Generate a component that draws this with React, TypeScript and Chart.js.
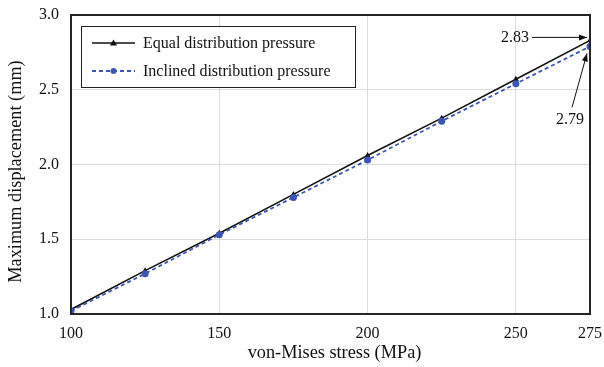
import React, { useEffect, useRef } from "react";
import { Chart, registerables } from "chart.js";

Chart.register(...registerables);

const stress = [100, 125, 150, 175, 200, 225, 250, 275];
const equalDisp = [1.03, 1.29, 1.54, 1.8, 2.06, 2.31, 2.57, 2.83];
const inclinedDisp = [1.02, 1.27, 1.53, 1.78, 2.03, 2.29, 2.54, 2.79];
const xTickValues = [100, 150, 200, 250, 275];
const yTickValues = [1.0, 1.5, 2.0, 2.5, 3.0];
const seriesNames = ["Equal distribution pressure", "Inclined distribution pressure"];
const xTitle = "von-Mises stress (MPa)";
const yTitle = "Maximum displacement (mm)";
const FONT = "'Liberation Serif', 'Times New Roman', serif";
const BLUE = "#3b55b3";

const framePlugin = {
  id: "frameAndNotes",
  afterDatasetsDraw(chart: any) {
    const ctx = chart.ctx;
    const a = chart.chartArea;
    ctx.save();
    ctx.strokeStyle = "#262626";
    ctx.lineWidth = 2;
    ctx.strokeRect(a.left, a.top, a.right - a.left, a.bottom - a.top);

    // axis titles
    ctx.fillStyle = "#111";
    ctx.font = `18.3px ${FONT}`;
    ctx.textAlign = "center";
    ctx.textBaseline = "middle";
    ctx.fillText(xTitle, (a.left + a.right) / 2 + 4, 353);
    ctx.save();
    ctx.translate(16, (a.top + a.bottom) / 2 + 7);
    ctx.rotate(-Math.PI / 2);
    ctx.fillText(yTitle, 0, 0);
    ctx.restore();

    // legend
    const lx = 81, ly = 26, lw = 274, lh = 61;
    ctx.fillStyle = "#fff";
    ctx.fillRect(lx, ly, lw, lh);
    ctx.strokeStyle = "#222";
    ctx.lineWidth = 1;
    ctx.strokeRect(lx + 0.5, ly + 0.5, lw, lh);
    const rows = [ly + 17, ly + 45];
    chart.data.datasets.forEach((ds: any, i: number) => {
      const y = rows[i];
      ctx.strokeStyle = ds.borderColor;
      ctx.lineWidth = ds.borderWidth;
      ctx.setLineDash(ds.borderDash || []);
      ctx.beginPath();
      ctx.moveTo(92, y);
      ctx.lineTo(135, y);
      ctx.stroke();
      ctx.setLineDash([]);
      ctx.fillStyle = ds.pointBackgroundColor;
      ctx.beginPath();
      if (ds.pointStyle === "triangle") {
        ctx.moveTo(113.5, y - 3.5);
        ctx.lineTo(117, y + 2.5);
        ctx.lineTo(110, y + 2.5);
        ctx.closePath();
      } else {
        ctx.arc(113.5, y, 3, 0, Math.PI * 2);
      }
      ctx.fill();
      ctx.fillStyle = "#111";
      ctx.font = `16px ${FONT}`;
      ctx.textAlign = "left";
      ctx.textBaseline = "middle";
      ctx.fillText(ds.label, 143, y + 1);
    });

    // annotations
    const xs = chart.scales.x, ys = chart.scales.y;
    const last = stress.length - 1;
    const px = xs.getPixelForValue(stress[last]);
    const pyE = ys.getPixelForValue(equalDisp[last]);
    const pyI = ys.getPixelForValue(inclinedDisp[last]);
    const arrow = (x1: number, y1: number, x2: number, y2: number) => {
      ctx.strokeStyle = "#111";
      ctx.fillStyle = "#111";
      ctx.lineWidth = 1;
      ctx.beginPath();
      ctx.moveTo(x1, y1);
      ctx.lineTo(x2, y2);
      ctx.stroke();
      const ang = Math.atan2(y2 - y1, x2 - x1);
      const L = 8, W = 3;
      ctx.beginPath();
      ctx.moveTo(x2, y2);
      ctx.lineTo(x2 - L * Math.cos(ang) + W * Math.sin(ang), y2 - L * Math.sin(ang) - W * Math.cos(ang));
      ctx.lineTo(x2 - L * Math.cos(ang) - W * Math.sin(ang), y2 - L * Math.sin(ang) + W * Math.cos(ang));
      ctx.closePath();
      ctx.fill();
    };
    ctx.font = `16px ${FONT}`;
    ctx.fillStyle = "#111";
    ctx.textAlign = "center";
    ctx.textBaseline = "middle";
    ctx.fillText(equalDisp[last].toFixed(2), px - 75, pyE - 3);
    arrow(px - 58, pyE - 3, px - 3, pyE - 3);
    ctx.fillStyle = "#111";
    ctx.fillText(inclinedDisp[last].toFixed(2), px - 20, pyI + 73);
    arrow(px - 18, pyI + 61, px - 3, pyI + 7);
    ctx.restore();
  },
};

export default function App() {
  const ref = useRef<HTMLCanvasElement>(null);
  useEffect(() => {
    document.body.style.margin = "0";
    const chart = new Chart(ref.current!, {
      type: "line",
      data: {
        datasets: [
          {
            label: seriesNames[0],
            data: stress.map((x, i) => ({ x, y: equalDisp[i] })),
            borderColor: "#111",
            backgroundColor: "#111",
            pointBackgroundColor: "#111",
            pointBorderColor: "#111",
            borderWidth: 1.6,
            pointStyle: "triangle",
            pointRadius: 3.5,
            pointBorderWidth: 0,
            order: 2,
          },
          {
            label: seriesNames[1],
            data: stress.map((x, i) => ({ x, y: inclinedDisp[i] })),
            borderColor: BLUE,
            backgroundColor: BLUE,
            pointBackgroundColor: BLUE,
            pointBorderColor: BLUE,
            borderWidth: 1.8,
            borderDash: [4, 3],
            pointStyle: "circle",
            pointRadius: 3.5,
            pointBorderWidth: 0,
            order: 1,
          },
        ],
      },
      options: {
        animation: false,
        responsive: false,
        layout: { padding: { left: 0, right: 14, top: 15, bottom: 0 } },
        plugins: { legend: { display: false }, tooltip: { enabled: false } },
        scales: {
          x: {
            type: "linear",
            min: 100,
            max: 275,
            afterBuildTicks: (s: any) => {
              s.ticks = xTickValues.map((v) => ({ value: v }));
            },
            afterFit: (s: any) => {
              s.height = 53;
              s.paddingRight = 0;
              s.paddingLeft = 0;
            },
            grid: { color: "#dcdcdc", lineWidth: 1, drawTicks: false },
            border: { display: false },
            ticks: {
              font: { family: FONT, size: 16 },
              color: "#111",
              padding: 10,
              maxRotation: 0,
              autoSkip: false,
            },
            title: { display: false },
          },
          y: {
            type: "linear",
            min: 1,
            max: 3,
            afterBuildTicks: (s: any) => {
              s.ticks = yTickValues.map((v) => ({ value: v }));
            },
            afterFit: (s: any) => {
              s.width = 71;
              s.paddingTop = 0;
              s.paddingBottom = 0;
            },
            grid: { color: "#dcdcdc", lineWidth: 1, drawTicks: false },
            border: { display: false },
            ticks: {
              font: { family: FONT, size: 16 },
              color: "#111",
              padding: 12,
              callback: (v: any) => Number(v).toFixed(1),
            },
            title: { display: false },
          },
        },
      },
      plugins: [framePlugin],
    } as any);
    return () => chart.destroy();
  }, []);
  return <canvas ref={ref} width={604} height={367} style={{ display: "block" }} />;
}
